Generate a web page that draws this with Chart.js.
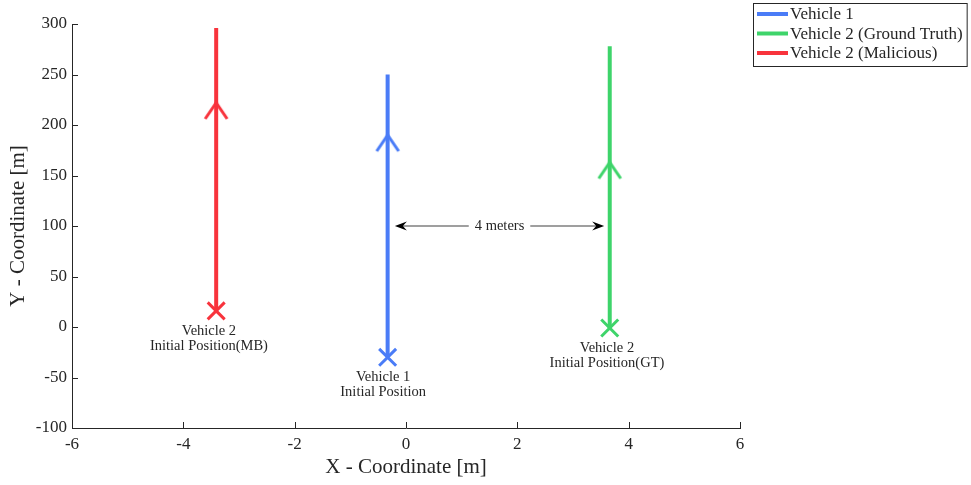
<!DOCTYPE html>
<html>
<head>
<meta charset="utf-8">
<script src="https://cdn.jsdelivr.net/npm/chart.js@4.4.1/dist/chart.umd.min.js"></script>
<style>
  html, body { margin: 0; padding: 0; background: #fff; }
  #wrap { width: 971px; height: 485px; }
</style>
</head>
<body>
<div id="wrap"><canvas id="trackChart"></canvas></div>
<script>
// Vehicle tracks: start (x marker), direction chevron, end
const vehicleNames = ['Vehicle 1', 'Vehicle 2 (Ground Truth)', 'Vehicle 2 (Malicious)'];
const vehicleColors = ['#4a7cf7', '#3ed46a', '#f8333c'];
const trackX = [-0.33, 3.66, -3.41];
const startY = [-30, -1, 16];
const chevronY = [182, 155, 214];
const endY = [250, 278, 296];

// Initial position captions
const captionX = [-0.41, 3.61, -3.54];
const captionY = [-50, -21, -4];
const captionLines = [
  ['Vehicle 1', 'Initial Position'],
  ['Vehicle 2', 'Initial Position(GT)'],
  ['Vehicle 2', 'Initial Position(MB)'],
];

// distance annotation
const gapArrowX = [-0.2, 3.56];
const gapArrowY = 100;
const gapText = '4 meters';

const xTicks = [-6, -4, -2, 0, 2, 4, 6];
const yTicks = [-100, -50, 0, 50, 100, 150, 200, 250, 300];

const FONT = "'Liberation Serif', 'DejaVu Serif', serif";
const INK = '#262626';

// open chevron used as the direction marker
function makeChevron(color) {
  const c = document.createElement('canvas');
  c.width = 26;
  c.height = 22;
  const g = c.getContext('2d');
  g.strokeStyle = color;
  g.lineWidth = 3;
  g.beginPath();
  g.moveTo(2, 19);
  g.lineTo(13, 3);
  g.lineTo(24, 19);
  g.stroke();
  return c;
}

const datasets = vehicleNames.map((name, i) => ({
  label: name,
  data: [
    { x: trackX[i], y: startY[i] },
    { x: trackX[i], y: chevronY[i] },
    { x: trackX[i], y: endY[i] },
  ],
  showLine: true,
  borderColor: vehicleColors[i],
  backgroundColor: vehicleColors[i],
  borderWidth: 4,
  pointStyle: ['crossRot', makeChevron(vehicleColors[i]), false],
  pointRadius: [12, 10, 0],
  pointBorderWidth: 3,
  pointBorderColor: vehicleColors[i],
}));

function arrowHead(ctx, x, y, dir) {
  ctx.beginPath();
  ctx.moveTo(x, y);
  ctx.lineTo(x + dir * 12, y - 4.5);
  ctx.lineTo(x + dir * 8, y);
  ctx.lineTo(x + dir * 12, y + 4.5);
  ctx.closePath();
  ctx.fill();
}

const decorations = {
  id: 'decorations',
  afterDraw(chart) {
    const ctx = chart.ctx;
    const xs = chart.scales.x;
    const ys = chart.scales.y;
    const area = chart.chartArea;
    ctx.save();

    // inward tick marks
    ctx.strokeStyle = INK;
    ctx.lineWidth = 1;
    ctx.beginPath();
    xTicks.forEach(v => {
      const px = Math.round(xs.getPixelForValue(v)) + 0.5;
      ctx.moveTo(px, area.bottom);
      ctx.lineTo(px, area.bottom - 6);
    });
    yTicks.forEach(v => {
      const py = Math.round(ys.getPixelForValue(v)) + 0.5;
      ctx.moveTo(area.left, py);
      ctx.lineTo(area.left + 6, py);
    });
    ctx.stroke();

    // captions under the start markers
    ctx.fillStyle = INK;
    ctx.font = '14.5px ' + FONT;
    ctx.textAlign = 'center';
    ctx.textBaseline = 'middle';
    captionLines.forEach((lines, i) => {
      const px = xs.getPixelForValue(captionX[i]);
      const py = ys.getPixelForValue(captionY[i]);
      lines.forEach((t, k) => ctx.fillText(t, px, py + k * 15));
    });

    // double arrow with text
    const ax0 = xs.getPixelForValue(gapArrowX[0]);
    const ax1 = xs.getPixelForValue(gapArrowX[1]);
    const ay = ys.getPixelForValue(gapArrowY);
    const mid = (ax0 + ax1) / 2;
    const tw = ctx.measureText(gapText).width;
    ctx.strokeStyle = '#808080';
    ctx.lineWidth = 1.5;
    ctx.beginPath();
    ctx.moveTo(ax0 + 6, ay);
    ctx.lineTo(mid - tw / 2 - 6, ay);
    ctx.moveTo(mid + tw / 2 + 6, ay);
    ctx.lineTo(ax1 - 6, ay);
    ctx.stroke();
    ctx.fillStyle = '#000';
    arrowHead(ctx, ax0, ay, 1);
    arrowHead(ctx, ax1, ay, -1);
    ctx.fillStyle = INK;
    ctx.fillText(gapText, mid, ay);

    // legend box outside the axes
    const lx = 753, ly = 3, lh = 63;
    ctx.font = '17px ' + FONT;
    let maxW = 0;
    vehicleNames.forEach(n => { maxW = Math.max(maxW, ctx.measureText(n).width); });
    const lw = Math.min(790 + maxW + 4, 970) - lx;
    ctx.fillStyle = '#fff';
    ctx.fillRect(lx, ly, lw, lh);
    ctx.strokeStyle = INK;
    ctx.lineWidth = 1;
    ctx.strokeRect(lx + 0.5, ly + 0.5, lw, lh);
    ctx.textAlign = 'left';
    vehicleNames.forEach((n, i) => {
      const yy = 14 + i * 19.5;
      ctx.strokeStyle = vehicleColors[i];
      ctx.lineWidth = 4;
      ctx.beginPath();
      ctx.moveTo(757, yy);
      ctx.lineTo(788, yy);
      ctx.stroke();
      ctx.fillStyle = INK;
      ctx.fillText(n, 790, yy + 1);
    });

    ctx.restore();
  },
};

new Chart(document.getElementById('trackChart'), {
  type: 'scatter',
  data: { datasets: datasets },
  options: {
    responsive: true,
    maintainAspectRatio: false,
    animation: false,
    events: [],
    layout: { padding: { left: 0, top: 24, right: 231, bottom: 0 } },
    plugins: {
      legend: { display: false },
      tooltip: { enabled: false },
    },
    scales: {
      x: {
        type: 'linear',
        min: -6,
        max: 6,
        afterFit: s => { s.height = 57; },
        afterBuildTicks: s => { s.ticks = xTicks.map(v => ({ value: v })); },
        grid: { color: 'rgba(0,0,0,0)', drawOnChartArea: false, drawTicks: false },
        border: { display: true, color: INK, width: 1 },
        ticks: { color: INK, font: { family: FONT, size: 17 }, padding: 6 },
        title: {
          display: true,
          text: 'X - Coordinate [m]',
          color: INK,
          font: { family: FONT, size: 21 },
          padding: { top: 0, bottom: 5 },
        },
      },
      y: {
        type: 'linear',
        min: -100,
        max: 300,
        afterFit: s => { s.width = 72; },
        afterBuildTicks: s => { s.ticks = yTicks.map(v => ({ value: v })); },
        grid: { color: 'rgba(0,0,0,0)', drawOnChartArea: false, drawTicks: false },
        border: { display: true, color: INK, width: 1 },
        ticks: { color: INK, font: { family: FONT, size: 17 }, padding: 5 },
        title: {
          display: true,
          text: 'Y - Coordinate [m]',
          color: INK,
          font: { family: FONT, size: 21 },
          padding: { top: 6, bottom: 0 },
        },
      },
    },
  },
  plugins: [decorations],
});
</script>
</body>
</html>
